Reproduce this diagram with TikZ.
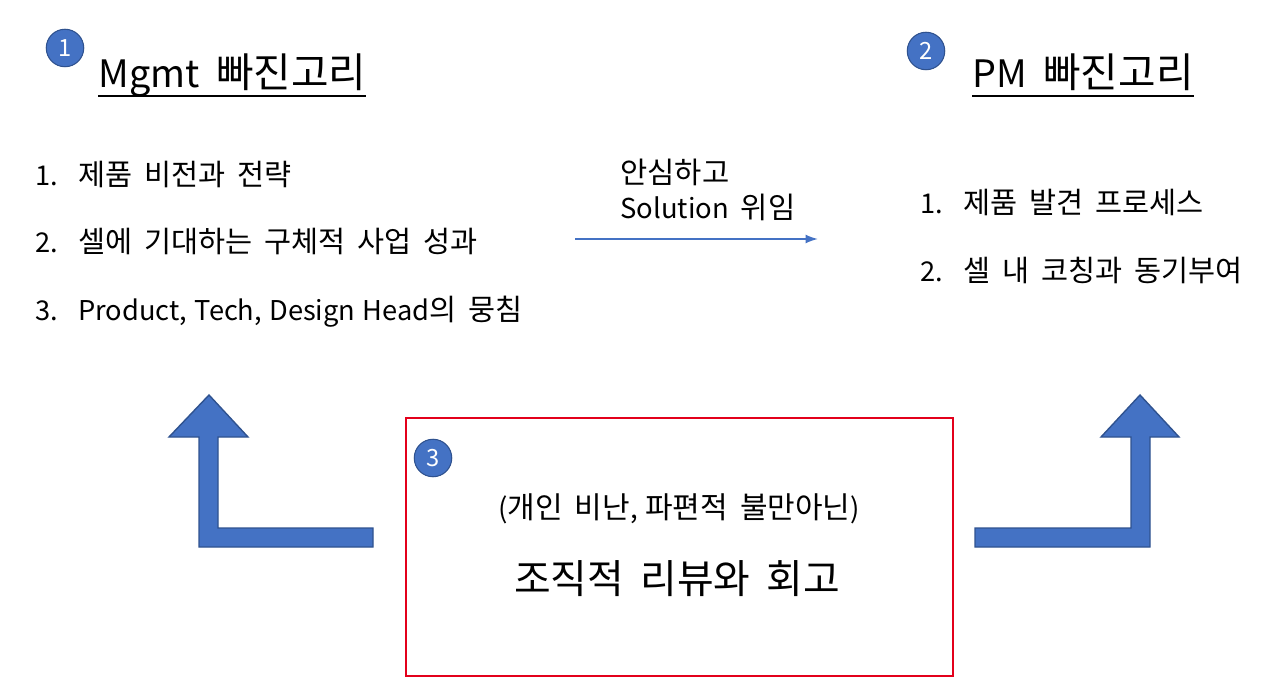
\documentclass[tikz,border=0pt]{standalone}
\usepackage{fontspec}
\setmainfont{Noto Sans CJK KR}[WordSpace=1.2]
\newfontfamily\krfont{Noto Sans CJK KR}[Scale=1.08, WordSpace=1.8]
\usepackage{xcolor}
\usepackage{tikz}
\usetikzlibrary{arrows.meta}

\definecolor{pptblue}{HTML}{4472C4}
\definecolor{pptborder}{HTML}{2F528F}
\definecolor{boxred}{HTML}{E3001B}

\tikzset{
    numdot/.style={circle, fill=pptblue, draw=pptborder, line width=0.6pt,
        minimum size=0.75cm, inner sep=0pt, text=white,
        font=\fontsize{13.5}{15}\selectfont},
    heading/.style={anchor=base west, inner sep=0pt, font=\fontsize{21.5}{26}\selectfont},
    listline/.style={anchor=base west, inner sep=0pt, font=\fontsize{15.5}{18}\selectfont},
    bentarrow/.style={fill=pptblue, draw=pptborder, line width=0.8pt, line join=miter},
}
\newcommand{\itemno}[1]{\makebox[0.86cm][l]{#1}}
\newcommand{\kr}[1]{{\krfont #1}}

\begin{document}
\begin{tikzpicture}[x=0.02cm, y=-0.02cm]
        \useasboundingbox (0,0) rectangle (1280,695);

        % ---------- Mgmt side ----------
        \node[numdot] (mark1) at (65,48) {1};
        \node[heading] (mgmt) at (98,88) {Mgmt\kr{ 빠진고리}};
        \draw[line width=1.1pt] ([yshift=-0.16cm]mgmt.base west) -- ([yshift=-0.16cm]mgmt.base east);

        \node[listline] (mgmt1) at (35,186) {\itemno{1.}\kr{제품 비전과 전략}};
        \node[listline] (mgmt2) at (35,253) {\itemno{2.}\kr{셀에 기대하는 구체적 사업 성과}};
        \node[listline] (mgmt3) at (35,321) {\itemno{3.}Product, Tech, Design Head\kr{의 뭉침}};

        % ---------- PM side ----------
        \node[numdot] (mark2) at (926,51) {2};
        \node[heading] (pm) at (972,88) {PM\kr{ 빠진고리}};
        \draw[line width=1.1pt] ([yshift=-0.16cm]pm.base west) -- ([yshift=-0.16cm]pm.base east);

        \node[listline] (pm1) at (920,214) {\itemno{1.}\kr{제품 발견 프로세스}};
        \node[listline] (pm2) at (920,282) {\itemno{2.}\kr{셀 내 코칭과 동기부여}};

        % handover arrow
        \coordinate (handFrom) at (575,239);
        \coordinate (handTo) at (818,239);
        \draw[-{Latex[length=7pt,width=5pt]}, pptblue, line width=0.9pt] (handFrom) -- (handTo);
        \node[anchor=west, align=left, inner sep=0pt, font=\fontsize{15.6}{20}\selectfont] (handLabel) at (620,190) {\kr{안심하고}\\Solution\kr{ 위임}};

        % ---------- review box ----------
        \node[draw=boxred, line width=1pt, minimum width=10.94cm, minimum height=5.16cm, inner sep=0pt] (review) at (679.5,547) {};
        \node[numdot] (mark3) at (433,458) {3};
        \node[font=\fontsize{15.8}{18}\selectfont] (reviewNote) at (679,509) {(\kr{개인 비난}, \kr{파편적 불만아닌})};
        \node[font=\fontsize{21}{25}\selectfont] (reviewTitle) at (677,579) {\kr{조직적 리뷰와 회고}};

        % left bent arrow
        \draw[bentarrow] (373,528) -- (218,528) -- (218,437) -- (248,437) -- (209,395)
            -- (169,437) -- (199,437) -- (199,547) -- (373,547) -- cycle;

        % right bent arrow
        \draw[bentarrow] (975,528) -- (1131,528) -- (1131,437) -- (1101,437) -- (1140,395)
            -- (1179,437) -- (1150,437) -- (1150,547) -- (975,547) -- cycle;

\end{tikzpicture}
\end{document}
